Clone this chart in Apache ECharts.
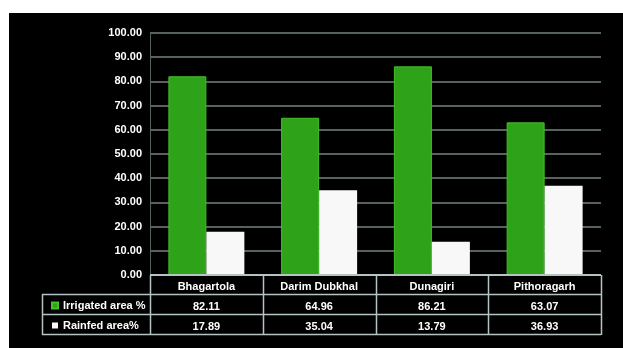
<!DOCTYPE html>
<html><head><meta charset="utf-8">
<script src="https://cdn.jsdelivr.net/npm/echarts@6/dist/echarts.min.js"></script>
<style>html,body{margin:0;padding:0;background:#fff}#c{width:623px;height:348px}</style>
</head><body><div id="c"></div>
<script>
var categories = ['Bhagartola', 'Darim Dubkhal', 'Dunagiri', 'Pithoragarh'];
var irrigated = [82.11, 64.96, 86.21, 63.07];
var rainfed = [17.89, 35.04, 13.79, 36.93];
var seriesNames = ['Irrigated area %', 'Rainfed area%'];

var chart = echarts.init(document.getElementById('c'));
var L = 150, R = 601, T = 33, B = 275;
var lineC = '#b4c4c4';
var font = 'Liberation Sans Narrow, Liberation Sans, sans-serif';
var g = [
  {type:'rect', shape:{x:9,y:13,width:614,height:335}, style:{fill:'#000'}, z:-10, silent:true},
  {type:'line', shape:{x1:L,y1:B,x2:R,y2:B}, style:{stroke:lineC,lineWidth:2}, z:10},
  {type:'line', shape:{x1:42,y1:294.5,x2:R,y2:294.5}, style:{stroke:lineC,lineWidth:1.5}, z:10},
  {type:'line', shape:{x1:42,y1:314.5,x2:R,y2:314.5}, style:{stroke:lineC,lineWidth:1.5}, z:10},
  {type:'line', shape:{x1:42,y1:334.5,x2:R,y2:334.5}, style:{stroke:lineC,lineWidth:1.5}, z:10},
  {type:'line', shape:{x1:42.5,y1:294,x2:42.5,y2:335}, style:{stroke:lineC,lineWidth:1.5}, z:10}
];
var cw = (R - L) / categories.length;
for (var i = 0; i <= categories.length; i++) {
  var x = Math.round(L + i * cw) + 0.5;
  g.push({type:'line', shape:{x1:x,y1:B,x2:x,y2:335}, style:{stroke:lineC,lineWidth:1.5}, z:10});
}
function fmt(v){ return v.toFixed(2); }

var labelStyle = {color:'#fff', fontWeight:'bold', fontSize:11, fontFamily:font};
chart.setOption({
  backgroundColor:'#fff',
  animation:false,
  graphic:g,
  grid:{left:L, right:623-R, top:T, bottom:348-B, containLabel:false},
  legend:{
    orient:'vertical', left:46, top:295, itemGap:9, itemWidth:6, itemHeight:6,
    icon:'rect', data:seriesNames,
    textStyle:{color:'#fff', fontWeight:'bold', fontSize:11, fontFamily:font}
  },
  xAxis:[
    {type:'category', data:categories, position:'bottom', axisLine:{show:false}, axisTick:{show:false},
     axisLabel:Object.assign({margin:6}, labelStyle)},
    {type:'category', data:irrigated.map(fmt), position:'bottom', offset:20, axisLine:{show:false}, axisTick:{show:false},
     axisLabel:Object.assign({margin:6}, labelStyle)},
    {type:'category', data:rainfed.map(fmt), position:'bottom', offset:40, axisLine:{show:false}, axisTick:{show:false},
     axisLabel:Object.assign({margin:6}, labelStyle)}
  ],
  yAxis:{type:'value', min:0, max:100, interval:10,
    axisLine:{show:true, lineStyle:{color:'#56625f', width:1}},
    axisTick:{show:false},
    axisLabel:Object.assign({margin:8, formatter:fmt}, labelStyle),
    splitLine:{lineStyle:{color:'#56625f', width:2}}
  },
  series:[
    {name:seriesNames[0], type:'bar', data:irrigated, barWidth:38, barGap:'0%',
     itemStyle:{color:'#2ea31a', borderColor:'#43c02a', borderWidth:1}},
    {name:seriesNames[1], type:'bar', data:rainfed, barWidth:38, barGap:'0%',
     itemStyle:{color:'#f8f8f8'}}
  ]
});
</script></body></html>
